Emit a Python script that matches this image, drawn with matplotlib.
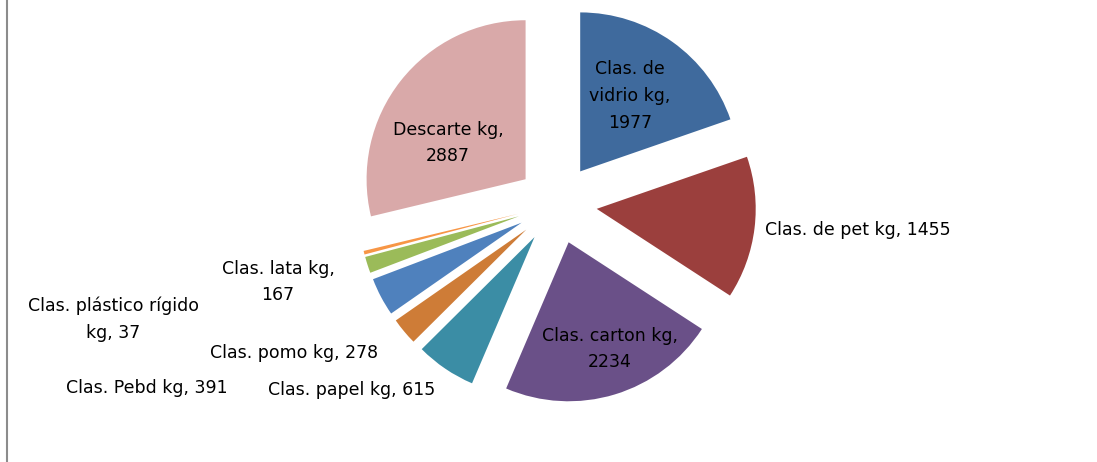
import matplotlib
matplotlib.use('Agg')
import matplotlib.pyplot as plt
from matplotlib.lines import Line2D

# data
categories = ['Clas. de vidrio kg', 'Clas. de pet kg', 'Clas. carton kg',
              'Clas. papel kg', 'Clas. pomo kg', 'Clas. Pebd kg',
              'Clas. lata kg', 'Clas. plástico rígido kg', 'Descarte kg']
kg = [1977, 1455, 2234, 615, 278, 391, 167, 37, 2887]
colors = ['#3F6A9D', '#9B3F3D', '#6A5088', '#3B8DA5', '#CE7C37',
          '#4F81BD', '#9BBB59', '#F79646', '#D9A9A9']

# label text (as in the chart) and where each one sits, in pixels from top-left
label_text = ['Clas. de\nvidrio kg,\n1977', 'Clas. de pet kg, 1455',
              'Clas. carton kg,\n2234', 'Clas. papel kg, 615',
              'Clas. pomo kg, 278', 'Clas. Pebd kg, 391',
              'Clas. lata kg,\n167', 'Clas. plástico rígido\nkg, 37',
              'Descarte kg,\n2887']
label_pos = [(630, 96), (858, 230), (610, 349), (352, 390), (294, 353),
             (147, 388), (278, 282), (113, 319), (448, 143)]

W, H = 1097, 462
fig = plt.figure(figsize=(W / 100, H / 100), dpi=100)
ax = fig.add_axes([0, 0, 1, 1])

# pie in pixel units: centre (557, 204) from top, radius 160, each slice pulled out 40
ax.pie(kg, colors=colors, startangle=90, counterclock=False,
       center=(557, H - 204), radius=159, explode=[40] * len(kg),
       wedgeprops=dict(linewidth=0))

for txt, (x, y) in zip(label_text, label_pos):
    ax.text(x, H - y, txt, ha='center', va='center', fontsize=12.5,
            linespacing=1.64, color='black')

ax.set_xlim(0, W)
ax.set_ylim(0, H)
ax.set_aspect('equal')
ax.axis('off')

# grey frame edge on the left
fig.add_artist(Line2D([6.5 / W, 6.5 / W], [0, 1], color='#8c8c8c', lw=1.5))

plt.savefig('out.png', dpi=100)
